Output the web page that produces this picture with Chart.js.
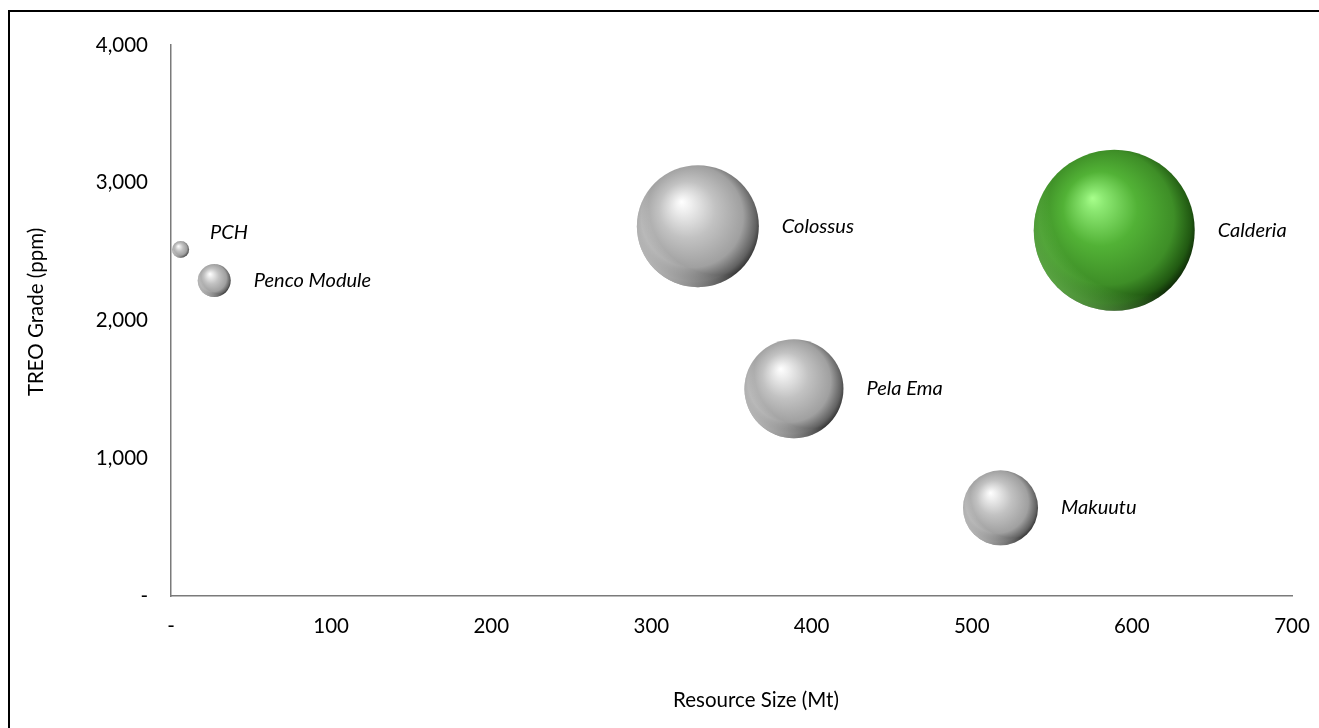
<!DOCTYPE html>
<html>
<head>
<meta charset="utf-8">
<title>Resource Size vs TREO Grade</title>
<script src="https://cdn.jsdelivr.net/npm/chart.js@4/dist/chart.umd.min.js"></script>
<style>
  html, body { margin: 0; padding: 0; background: #fff; overflow: hidden; }
  #bubbleChart { position: absolute; left: 0; top: 0; }
</style>
</head>
<body>
<canvas id="bubbleChart" width="1319" height="728"></canvas>
<script>
// project data
const projects = ["PCH", "Penco Module", "Colossus", "Pela Ema", "Makuutu", "Calderia"];
const resourceMt = [6, 27, 329, 389, 518, 589];
const treoPpm = [2515, 2290, 2685, 1505, 640, 2655];
const bubbleSize = [8.5, 16.5, 61, 49.5, 37.5, 80.5];
const highlightProject = "Calderia";

const xTicks = [0, 100, 200, 300, 400, 500, 600, 700];
const yTicks = [0, 1000, 2000, 3000, 4000];

const FONT = "Lato, 'Open Sans', sans-serif";

const grayBall = ["#ffffff", "#f0f0f0", "#c2c2c2", "#a0a0a0", "#626262", "#2e2e2e"];
const greenBall = ["#a8ff8c", "#8ce872", "#52b236", "#3e8e27", "#215912", "#0c2406"];

function isHighlight(i) {
  return projects[i] === highlightProject;
}

function sphereFill(c) {
  const chart = c.chart;
  const raw = c.raw;
  const palette = (c.dataIndex !== undefined && isHighlight(c.dataIndex)) ? greenBall : grayBall;
  if (!raw || !chart.chartArea) return palette[2];
  const cx = chart.scales.x.getPixelForValue(raw.x);
  const cy = chart.scales.y.getPixelForValue(raw.y);
  const r = raw.r;
  const g = chart.ctx.createRadialGradient(cx - 0.27 * r, cy - 0.4 * r, 0, cx - 0.04 * r, cy - 0.08 * r, 1.1 * r);
  g.addColorStop(0, palette[0]);
  g.addColorStop(0.11, palette[1]);
  g.addColorStop(0.42, palette[2]);
  g.addColorStop(0.76, palette[3]);
  g.addColorStop(0.92, palette[4]);
  g.addColorStop(1, palette[5]);
  return g;
}

function tickText(value) {
  return value === 0 ? "-" : Number(value).toLocaleString("en-US");
}

// chart box: only its top and left edges fall inside the picture
const chartFrame = {
  id: "chartFrame",
  beforeDraw(chart) {
    const ctx = chart.ctx;
    ctx.save();
    ctx.fillStyle = "#000";
    ctx.fillRect(8, 10, chart.width - 8, 2);
    ctx.fillRect(8, 10, 2, chart.height - 10);
    ctx.restore();
  }
};

// light reflection on the lower left rim of each ball
const rimLight = {
  id: "rimLight",
  afterDatasetsDraw(chart) {
    const ctx = chart.ctx;
    const meta = chart.getDatasetMeta(0);
    meta.data.forEach((pt, i) => {
      const r = pt.options.radius;
      const ox = pt.x + 0.35 * r, oy = pt.y - 0.35 * r;
      const g = ctx.createRadialGradient(ox, oy, 1.15 * r, ox, oy, 1.5 * r);
      const tint = isHighlight(i) ? "140,230,110" : "255,255,255";
      g.addColorStop(0, "rgba(" + tint + ",0)");
      g.addColorStop(1, "rgba(" + tint + ",0.55)");
      ctx.save();
      ctx.beginPath();
      ctx.arc(pt.x, pt.y, r, 0, Math.PI * 2);
      ctx.clip();
      ctx.fillStyle = g;
      ctx.fillRect(pt.x - r, pt.y - r, 2 * r, 2 * r);
      ctx.restore();
    });
  }
};

// labels sit to the right of each bubble; PCH was nudged up in the original
const labelNudge = { "PCH": { dx: -2, dy: -17 } };

const bubbleLabels = {
  id: "bubbleLabels",
  afterDatasetsDraw(chart) {
    const ctx = chart.ctx;
    const meta = chart.getDatasetMeta(0);
    ctx.save();
    ctx.font = "italic 20px " + FONT;
    ctx.fillStyle = "#000";
    ctx.textBaseline = "middle";
    ctx.textAlign = "left";
    meta.data.forEach((pt, i) => {
      const n = labelNudge[projects[i]] || { dx: 0, dy: 0 };
      const r = pt.options.radius;
      ctx.fillText(projects[i], pt.x + r + 23 + n.dx, pt.y + n.dy);
    });
    ctx.restore();
  }
};

const axisTitles = {
  id: "axisTitles",
  afterDraw(chart) {
    const ctx = chart.ctx;
    ctx.save();
    ctx.font = "20.5px " + FONT;
    ctx.fillStyle = "#000";
    ctx.textAlign = "center";
    ctx.textBaseline = "middle";
    ctx.fillText("Resource Size (Mt)", 756, 700);
    ctx.translate(36, 312);
    ctx.rotate(-Math.PI / 2);
    ctx.fillText("TREO Grade (ppm)", 0, 0);
    ctx.restore();
  }
};

const points = projects.map((p, i) => ({ x: resourceMt[i], y: treoPpm[i], r: bubbleSize[i] }));

new Chart(document.getElementById("bubbleChart"), {
  type: "bubble",
  data: {
    datasets: [{
      label: "Projects",
      data: points,
      backgroundColor: sphereFill,
      borderWidth: 0,
      hoverBorderWidth: 0
    }]
  },
  options: {
    responsive: false,
    animation: false,
    events: [],
    layout: { autoPadding: false, padding: { top: 45, right: 27, left: 0, bottom: 0 } },
    plugins: {
      legend: { display: false },
      tooltip: { enabled: false }
    },
    scales: {
      x: {
        type: "linear",
        min: xTicks[0],
        max: xTicks[xTicks.length - 1],
        afterBuildTicks: scale => { scale.ticks = xTicks.map(v => ({ value: v })); },
        afterFit: scale => {
          scale.height = 132;
          scale.paddingLeft = 0;
          scale.paddingRight = 0;
        },
        grid: { display: false, drawTicks: false },
        border: { display: true, color: "#7a7a7a", width: 1.5 },
        ticks: {
          padding: 18,
          maxRotation: 0,
          color: "#000",
          font: { family: FONT, size: 20.5 },
          callback: tickText
        }
      },
      y: {
        type: "linear",
        min: yTicks[0],
        max: yTicks[yTicks.length - 1],
        afterBuildTicks: scale => { scale.ticks = yTicks.map(v => ({ value: v })); },
        afterFit: scale => {
          scale.width = 171;
          scale.paddingTop = 0;
          scale.paddingBottom = 0;
        },
        grid: { display: false, drawTicks: false },
        border: { display: true, color: "#7a7a7a", width: 1.5 },
        ticks: {
          padding: 23,
          color: "#000",
          font: { family: FONT, size: 20.5 },
          callback: tickText
        }
      }
    }
  },
  plugins: [chartFrame, rimLight, bubbleLabels, axisTitles]
});
</script>
</body>
</html>
